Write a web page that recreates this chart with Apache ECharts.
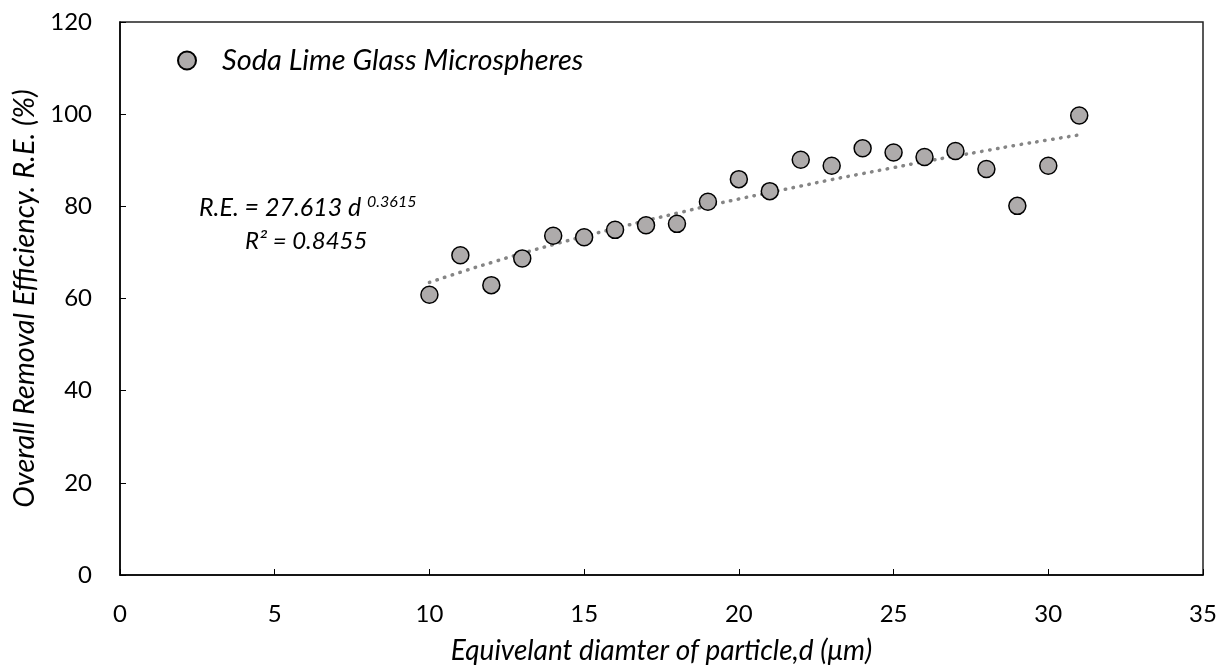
<!DOCTYPE html>
<html lang="en">
<head>
    <meta charset="UTF-8">
    <title>Removal efficiency</title>
    <style>
        html, body { margin: 0; padding: 0; background: #fff; }
    </style>
</head>
<body>

<div id="main" style="width: 1225px;height:670px;"></div>

<script type="text/javascript" src="https://cdn.jsdelivr.net/npm/echarts@6/dist/echarts.min.js"></script>
<script type="text/javascript">

    // measured points
    var diameters = [10, 11, 12, 13, 14, 15, 16, 17, 18, 19, 20, 21, 22, 23, 24, 25, 26, 27, 28, 29, 30, 31];
    var efficiency = [60.8, 69.4, 62.9, 68.7, 73.6, 73.3, 74.9, 75.9, 76.2, 81.0, 85.9, 83.3, 90.1,
        88.8, 92.6, 91.7, 90.7, 92.0, 88.1, 80.1, 88.8, 99.7];

    // power trendline as drawn
    var trend = [63.5, 65.7, 67.8, 69.8, 71.7, 73.5, 75.2, 76.9, 78.5, 80.1, 81.6, 83.0, 84.4,
        85.8, 87.1, 88.4, 89.7, 90.9, 92.1, 93.3, 94.4, 95.5];

    var xTicks = [0, 5, 10, 15, 20, 25, 30, 35];
    var yTicks = [0, 20, 40, 60, 80, 100, 120];

    var pts = [];
    var trendPts = [];
    for (var i = 0; i < diameters.length; i++) {
        pts.push([diameters[i], efficiency[i]]);
        trendPts.push([diameters[i], trend[i]]);
    }

    var font = 'Lato, "Open Sans", sans-serif';

    var chart = echarts.init(document.getElementById('main'));

    chart.setOption({
        animation: false,
        grid: {
            left: 120, right: 22, top: 22, bottom: 95,
            show: true, borderColor: '#222', borderWidth: 1.5
        },
        legend: {
            data: ['Soda Lime Glass Microspheres'],
            left: 172, top: 41,
            itemWidth: 18, itemHeight: 18,
            itemGap: 10,
            textStyle: { fontFamily: font, fontStyle: 'italic', fontSize: 29, color: '#000', padding: [0, 0, 0, 21] }
        },
        xAxis: {
            type: 'value',
            min: 0, max: 35, interval: 5,
            name: 'Equivelant diamter of particle,d (μm)',
            nameLocation: 'middle',
            nameGap: 62,
            nameTextStyle: { fontFamily: font, fontStyle: 'italic', fontSize: 28, color: '#000' },
            splitLine: { show: false },
            axisLine: { lineStyle: { color: '#000', width: 1.5 } },
            axisTick: { inside: true, length: 6, lineStyle: { color: '#000' } },
            axisLabel: { fontFamily: font, fontSize: 24, color: '#000', margin: 27,
                formatter: function (v) { return xTicks.indexOf(v) >= 0 ? v : ''; } }
        },
        yAxis: {
            type: 'value',
            min: 0, max: 120, interval: 20,
            name: 'Overall Removal Efficiency. R.E. (%)',
            nameLocation: 'middle',
            nameGap: 81,
            nameTextStyle: { fontFamily: font, fontStyle: 'italic', fontSize: 29, color: '#000' },
            splitLine: { show: false },
            axisLine: { show: true, lineStyle: { color: '#000', width: 1.5 } },
            axisTick: { show: true, inside: true, length: 6, lineStyle: { color: '#000' } },
            axisLabel: { fontFamily: font, fontSize: 24, color: '#000', margin: 28,
                formatter: function (v) { return yTicks.indexOf(v) >= 0 ? v : ''; } }
        },
        series: [
            {
                name: 'trend',
                type: 'line',
                data: trendPts,
                smooth: true,
                symbol: 'none',
                lineStyle: { color: '#858585', width: 3.5, type: [0.5, 7.5], cap: 'round' },
                z: 1
            },
            {
                name: 'Soda Lime Glass Microspheres',
                type: 'scatter',
                data: pts,
                symbol: 'circle',
                symbolSize: 17,
                itemStyle: { color: '#aeabab', borderColor: '#000', borderWidth: 1.5, opacity: 1 },
                z: 3
            }
        ],
        graphic: [
            {
                type: 'text',
                left: 199, top: 194,
                style: {
                    text: '{m|R.E. = 27.613 d }{s|0.3615}',
                    rich: {
                        m: { fontFamily: font, fontStyle: 'italic', fontSize: 25, fill: '#000' },
                        s: { fontFamily: font, fontStyle: 'italic', fontSize: 16, fill: '#000', verticalAlign: 'top', padding: [0, 0, 12, 0] }
                    }
                }
            },
            {
                type: 'text',
                left: 245, top: 229,
                style: {
                    text: 'R² = 0.8455',
                    fontFamily: font, fontStyle: 'italic', fontSize: 24, fill: '#000'
                }
            }
        ]
    });
</script>
</body>
</html>
